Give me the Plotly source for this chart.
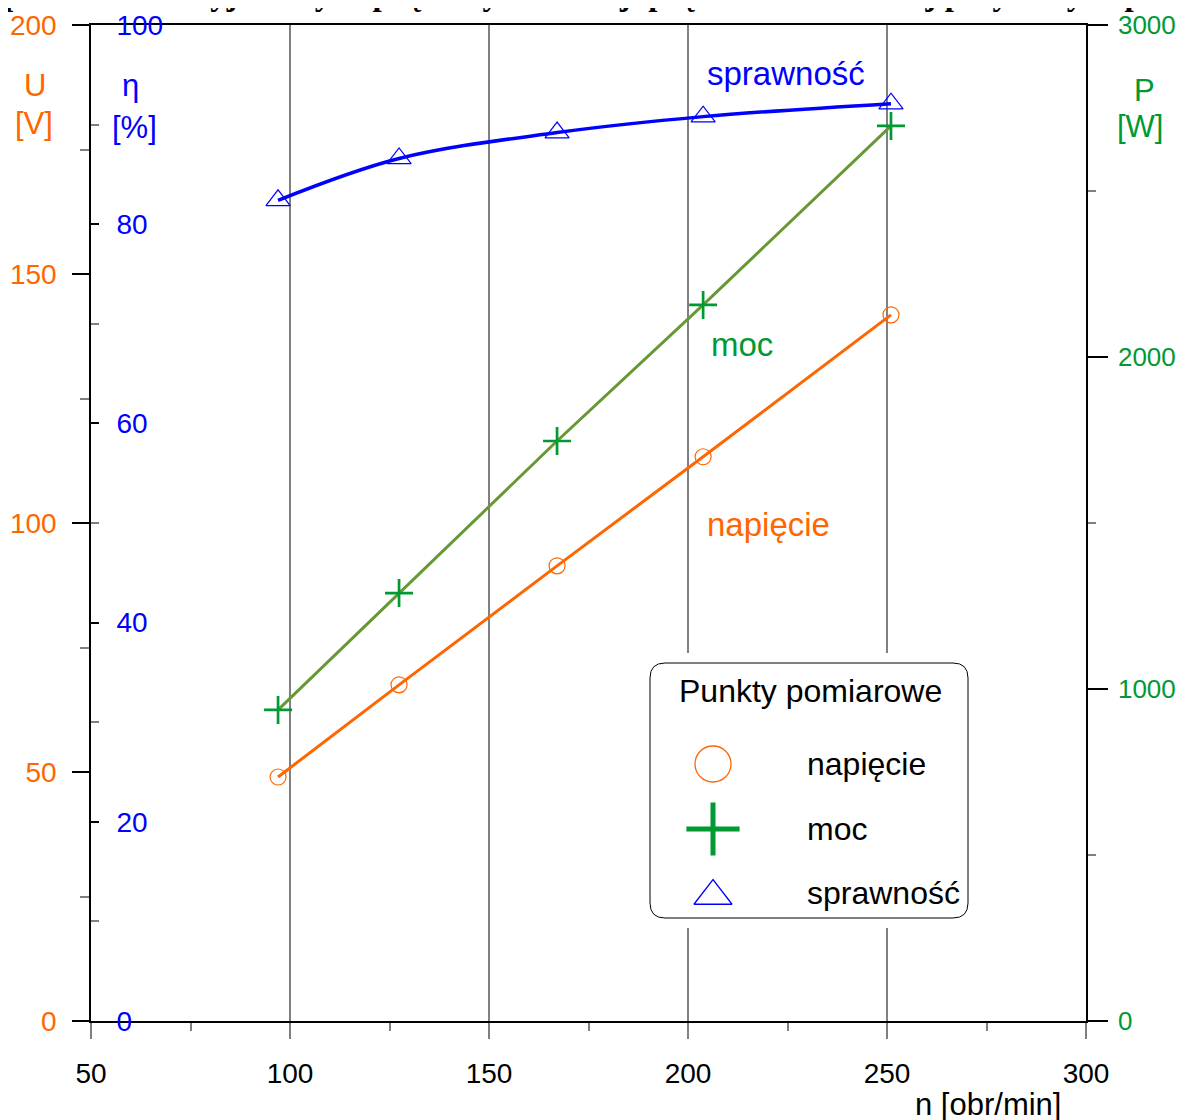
import plotly.graph_objects as go

# ---- data ----
n_obr = [97.0, 127.4, 167.1, 203.8, 251.0]          # n [obr/min]
napiecie_V = [49.0, 67.5, 91.4, 113.3, 141.8]        # U [V]
moc_W = [937, 1289, 1747, 2157, 2696]                # P [W]
sprawnosc_pct = [82.4, 86.6, 89.2, 90.8, 92.1]       # eta [%]

x_ticks = [50, 100, 150, 200, 250, 300]
x_minor = [75, 125, 175, 225, 275]
U_ticks = [0, 50, 100, 150, 200]
U_minor = [25, 75, 125, 175]
eta_ticks = [0, 20, 40, 60, 80, 100]
eta_minor = [10, 30, 50, 70, 90]
P_ticks = [0, 1000, 2000, 3000]
P_minor = [500, 1500, 2500]

legend_title = "Punkty pomiarowe"
legend_labels = ["napięcie", "moc", "sprawność"]

ORANGE = "#ff6600"
BLUE = "#0000ff"
GREEN = "#009933"
OLIVE = "#669933"
GRAY = "#808080"
FONT = "Liberation Sans, Arial, sans-serif"

W, H = 1184, 1120
OFF = 8  # page body margin: figure pixel = image pixel - OFF
# plot area in image pixels
L, R, T, B = 91, 1086, 25, 1021


def px(x):
    return (x - L) / (R - L)


def py(y):
    return (B - y) / (B - T)


fig = go.Figure()

# voltage
fig.add_trace(go.Scatter(
    x=n_obr, y=napiecie_V, mode="lines+markers", yaxis="y", xaxis="x",
    line=dict(color=ORANGE, width=3),
    marker=dict(symbol="circle-open", size=16, color=ORANGE, line=dict(width=1.2, color=ORANGE)),
    cliponaxis=False, showlegend=False))
# power
fig.add_trace(go.Scatter(
    x=n_obr, y=moc_W, mode="lines", yaxis="y3", xaxis="x",
    line=dict(color=OLIVE, width=3), showlegend=False))
fig.add_trace(go.Scatter(
    x=n_obr, y=moc_W, mode="markers", yaxis="y3", xaxis="x",
    marker=dict(symbol="cross-thin", size=20, color=GREEN, line=dict(width=2.7, color=GREEN)),
    cliponaxis=False, showlegend=False))
# efficiency
fig.add_trace(go.Scatter(
    x=n_obr, y=sprawnosc_pct, mode="lines+markers", yaxis="y2", xaxis="x",
    line=dict(color=BLUE, width=3.5, shape="spline"),
    marker=dict(symbol="triangle-up-open", size=21, color=BLUE, line=dict(width=1.2, color=BLUE)),
    cliponaxis=False, showlegend=False))

# ---- custom legend (own small subplot in image-pixel units) ----
LX0, LX1, LY0, LY1 = 640, 978, 653, 928
sym_x = 713
rows_y = [764, 829, 893]
fig.add_trace(go.Scatter(
    x=[sym_x], y=[rows_y[0]], xaxis="x2", yaxis="y4", mode="markers",
    marker=dict(symbol="circle-open", size=36, color=ORANGE, line=dict(width=1.3, color=ORANGE)),
    showlegend=False, hoverinfo="skip"))
fig.add_trace(go.Scatter(
    x=[sym_x], y=[rows_y[1]], xaxis="x2", yaxis="y4", mode="markers",
    marker=dict(symbol="cross-thin", size=38, color=GREEN, line=dict(width=5, color=GREEN)),
    showlegend=False, hoverinfo="skip"))
fig.add_trace(go.Scatter(
    x=[sym_x], y=[rows_y[2] + 3], xaxis="x2", yaxis="y4", mode="markers",
    marker=dict(symbol="triangle-up-open", size=33, color=BLUE, line=dict(width=1.3, color=BLUE)),
    showlegend=False, hoverinfo="skip"))

bx0, bx1, by0, by1, rr = 650, 968, 663, 918, 15
box_path = (f"M {bx0+rr},{by0} L {bx1-rr},{by0} Q {bx1},{by0} {bx1},{by0+rr} "
            f"L {bx1},{by1-rr} Q {bx1},{by1} {bx1-rr},{by1} L {bx0+rr},{by1} "
            f"Q {bx0},{by1} {bx0},{by1-rr} L {bx0},{by0+rr} Q {bx0},{by0} {bx0+rr},{by0} Z")
fig.add_shape(type="path", path=box_path, xref="x2", yref="y4",
              line=dict(color="black", width=1), fillcolor="white", layer="below")

annotations = []
annotations.append(dict(text=legend_title, x=810, y=691, xref="x2", yref="y4",
                        showarrow=False, font=dict(family=FONT, size=32, color="black"),
                        xanchor="center", yanchor="middle"))
for lab, yy in zip(legend_labels, rows_y):
    annotations.append(dict(text=lab, x=805, y=yy, xref="x2", yref="y4",
                            showarrow=False, font=dict(family=FONT, size=32, color="black"),
                            xanchor="left", yanchor="middle"))


def ann(text, x, y, color, size, xanchor="center", family=FONT):
    annotations.append(dict(text=text, x=px(x), y=py(y), xref="paper", yref="paper",
                            showarrow=False, font=dict(family=family, size=size, color=color),
                            xanchor=xanchor, yanchor="middle"))


# axis unit labels
ann("U", 35, 86, ORANGE, 31)
ann("[V]", 34, 123, ORANGE, 31)
ann("η", 130, 86, BLUE, 31)
ann("[%]", 134, 128, BLUE, 31)
ann("P", 1144, 90, GREEN, 31)
ann("[W]", 1140, 126, GREEN, 31)
ann("n [obr/min]", 988, 1104, "black", 31)
# curve labels
ann("sprawność", 786, 73, BLUE, 33)
ann("moc", 742, 344, GREEN, 33)
ann("napięcie", 768, 524, ORANGE, 33)
# clipped heading at the very top
annotations.append(dict(
    text="<b>parametrów wyjściowych prądnicy w funkcji prędkości obrotowej przy stałych parametrach konstrukcyjnych prądnicy</b>",
    x=px(2), y=py(-6), xref="paper", yref="paper", showarrow=False,
    font=dict(family="Liberation Serif, Times New Roman, serif", size=33, color="black"),
    xanchor="left", yanchor="middle"))

fig.update_layout(
    template="none",
    width=W, height=H,
    margin=dict(l=L - OFF, r=W - (R - OFF), t=T - OFF, b=H - (B - OFF), pad=0, autoexpand=False),
    paper_bgcolor="white", plot_bgcolor="white",
    showlegend=False,
    font=dict(family=FONT),
    xaxis=dict(
        domain=[0, 1], range=[50, 300], tickvals=x_ticks, ticktext=[str(v) for v in x_ticks],
        ticks="outside", ticklen=16, tickwidth=1.5, tickcolor=GRAY,
        showline=True, linecolor="black", linewidth=1.5, mirror=True,
        showgrid=True, gridcolor=GRAY, gridwidth=1.5, zeroline=False, automargin=False,
        tickfont=dict(family=FONT, size=28, color="black"), ticklabelstandoff=11,
        minor=dict(tickvals=x_minor, ticks="outside", ticklen=8, tickcolor=GRAY, tickwidth=1.5, showgrid=False),
        fixedrange=True),
    yaxis=dict(
        range=[0, 200], tickvals=U_ticks, ticktext=[str(v) for v in U_ticks],
        ticks="outside", ticklen=17, tickwidth=1.5, tickcolor="black",
        showline=True, linecolor="black", linewidth=1.5,
        showgrid=False, zeroline=False, automargin=False,
        tickfont=dict(family=FONT, size=28, color=ORANGE), ticklabelstandoff=10,
        minor=dict(tickvals=U_minor, ticks="outside", ticklen=9, tickcolor=GRAY, tickwidth=1.5),
        fixedrange=True),
    yaxis2=dict(
        overlaying="y", side="left", anchor="x",
        range=[0, 100], tickvals=eta_ticks, ticktext=[str(v) for v in eta_ticks],
        ticks="inside", ticklen=8, tickwidth=1.5, tickcolor="black",
        ticklabelposition="inside", ticklabeloverflow="allow",
        showline=False, showgrid=False, zeroline=False, automargin=False,
        tickfont=dict(family=FONT, size=28, color=BLUE), ticklabelstandoff=20,
        minor=dict(tickvals=eta_minor, ticks="inside", ticklen=8, tickcolor=GRAY, tickwidth=1.5),
        fixedrange=True),
    yaxis3=dict(
        overlaying="y", side="right", anchor="x",
        range=[0, 3000], tickvals=P_ticks, ticktext=[str(v) for v in P_ticks],
        ticks="outside", ticklen=20, tickwidth=1.5, tickcolor="black",
        showline=True, linecolor="black", linewidth=1.5,
        showgrid=False, zeroline=False, automargin=False,
        tickfont=dict(family=FONT, size=26, color=GREEN), ticklabelstandoff=5,
        minor=dict(tickvals=P_minor, ticks="outside", ticklen=8, tickcolor=GRAY, tickwidth=1.5),
        fixedrange=True),
    xaxis2=dict(domain=[px(LX0), px(LX1)], range=[LX0, LX1], anchor="y4", visible=False,
                fixedrange=True, automargin=False),
    yaxis4=dict(domain=[py(LY1), py(LY0)], range=[LY1, LY0], anchor="x2", visible=False,
                fixedrange=True, automargin=False),
    annotations=annotations,
)

fig.write_html("out.html")
